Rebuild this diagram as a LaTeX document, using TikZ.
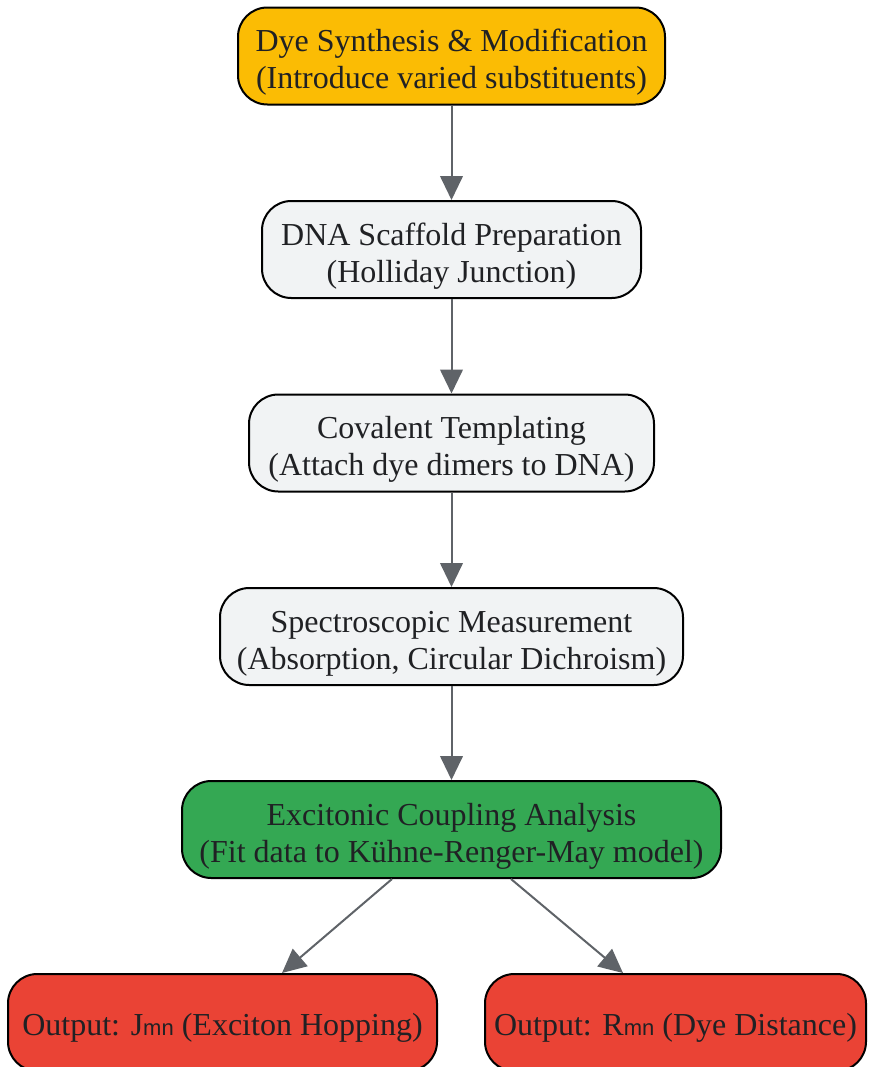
\documentclass[tikz,border=0pt]{standalone}
\usepackage{fontspec}
\setmainfont{Liberation Serif}
\newfontfamily\idxfont{Liberation Sans}
\usetikzlibrary{arrows.meta}
\definecolor{stepyellow}{HTML}{FBBC04}
\definecolor{stepgrey}{HTML}{F1F3F4}
\definecolor{stepgreen}{HTML}{34A853}
\definecolor{stepred}{HTML}{EA4335}
\definecolor{linkgrey}{HTML}{5F6368}
\definecolor{inkdark}{HTML}{202124}
\newcommand{\idx}[1]{{\idxfont\fontsize{16.5pt}{16.5pt}\selectfont #1}}
\newcommand{\lift}{\rule{0pt}{26.5pt}}

\begin{document}
\begin{tikzpicture}[x=0.75pt,y=-0.75pt,
		stepbox/.style={draw=black, line width=1.5pt, rounded corners=22pt, align=center,
			minimum height=72.75pt, inner sep=0pt, text=inkdark,
			font=\fontsize{24pt}{27.75pt}\selectfont},
		outbox/.style={stepbox, fill=stepred,
			execute at begin node={\rule{0pt}{25pt}}},
		link/.style={draw=linkgrey, line width=1.5pt, -{Triangle[length=18pt,width=17pt]}}]
	\useasboundingbox (0,0) rectangle (871,1067);
	% stages, top to bottom
	\node [stepbox, fill=stepyellow, minimum width=320.25pt] (dye) at (451.5,56)
		{\lift Dye Synthesis \& Modification\\(Introduce varied substituents)};
	\node [stepbox, fill=stepgrey, minimum width=284.25pt] (scaffold) at (451.5,249.5)
		{\lift DNA Scaffold Preparation\\(Holliday Junction)};
	\node [stepbox, fill=stepgrey, minimum width=303.75pt] (templ) at (451.5,443)
		{\lift Covalent Templating\\(Attach dye dimers to DNA)};
	\node [stepbox, fill=stepgrey, minimum width=347.25pt] (spectro) at (451.5,636.5)
		{\lift Spectroscopic Measurement\\(Absorption, Circular Dichroism)};
	\node [stepbox, fill=stepgreen, minimum width=404.25pt] (coupling) at (451.5,829.5)
		{\lift Excitonic Coupling Analysis\\(Fit data to Kühne-Renger-May model)};
	% outputs
	\node [outbox, minimum width=321.75pt] (hop) at (222.5,1022.5)
		{Output: J\idx{mn} (Exciton Hopping)};
	\node [outbox, minimum width=285.75pt] (dist) at (675.5,1022.5)
		{Output: R\idx{mn} (Dye Distance)};
	% links
	\draw [link] (dye) -- (scaffold);
	\draw [link] (scaffold) -- (templ);
	\draw [link] (templ) -- (spectro);
	\draw [link] (spectro) -- (coupling);
	\draw [link] ([xshift=158.25pt]coupling.south west) -- ([xshift=206.25pt]hop.north west);
	\draw [link] ([xshift=-158.25pt]coupling.south east) -- ([xshift=-183pt]dist.north east);
\end{tikzpicture}
\end{document}
